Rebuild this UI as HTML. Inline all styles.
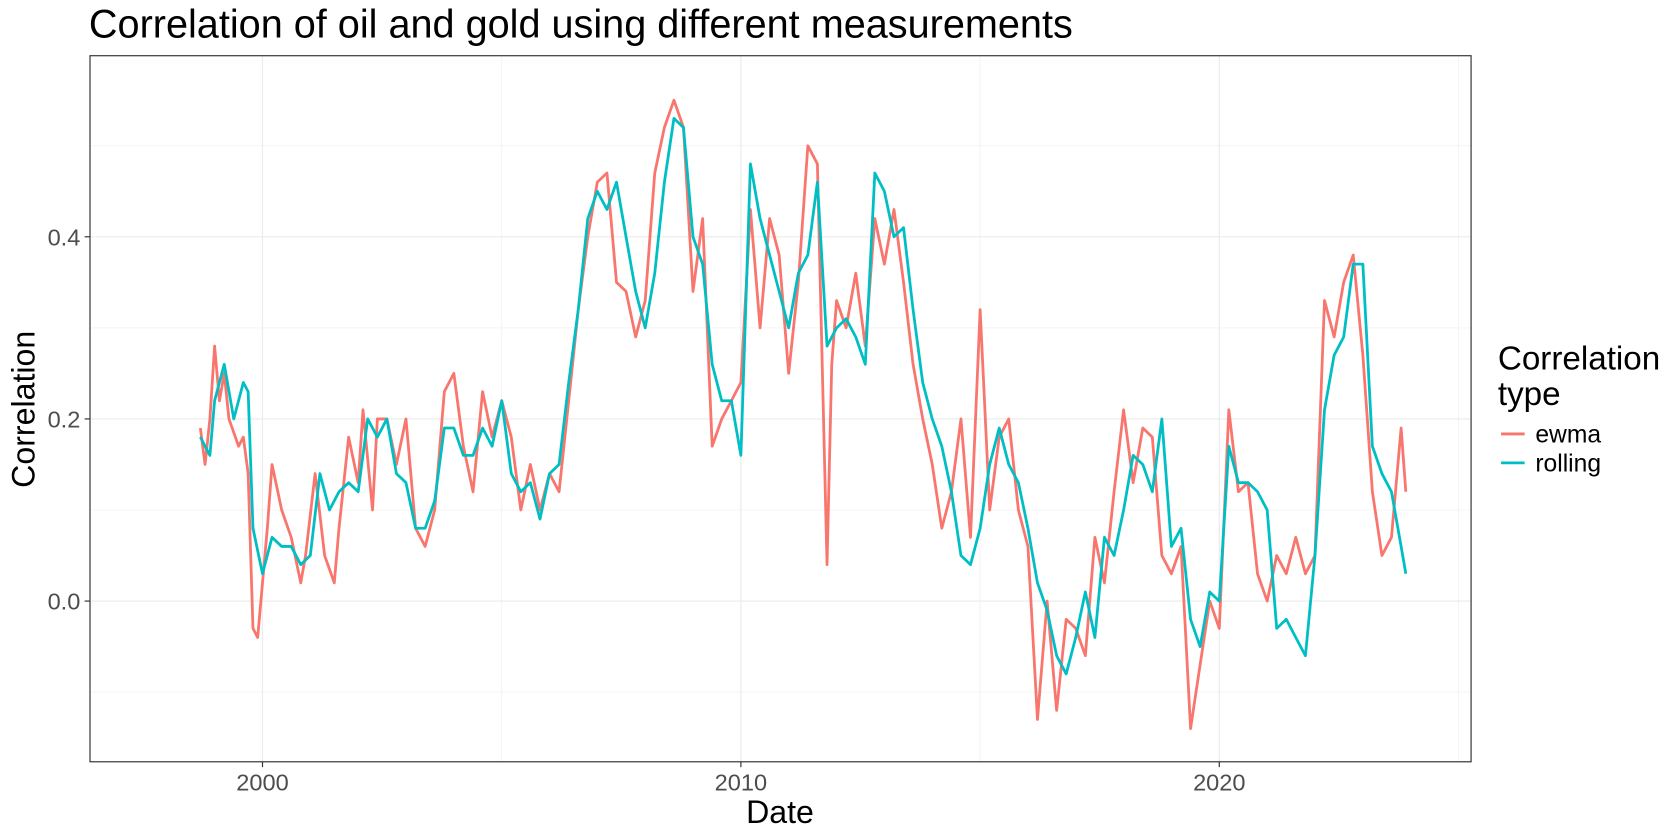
<!DOCTYPE html>
<html><head><meta charset="utf-8"><style>
html,body{margin:0;padding:0;background:#fff;width:1680px;height:840px;overflow:hidden}
svg{display:block;font-family:"Liberation Sans",sans-serif}
</style></head><body>
<svg id="chart" width="1680" height="840" viewBox="0 0 1568 784" xmlns="http://www.w3.org/2000/svg">
<rect width="1568" height="784" fill="#fff"/>
<text x="83" y="35" font-size="37" fill="#000">Correlation of oil and gold using different measurements</text>
<g id="grid"></g>
<g id="series"></g>
<rect x="84" y="52" width="1289" height="659" fill="none" stroke="#333" stroke-width="1.1"/>
<g id="axes"></g>
<text x="728" y="768" font-size="30" text-anchor="middle">Date</text>
<text transform="translate(32,382) rotate(-90)" font-size="30" text-anchor="middle">Correlation</text>
<g>
<text x="1398" y="345" font-size="31">Correlation</text>
<text x="1398" y="378" font-size="31">type</text>
<line x1="1401" y1="405" x2="1423" y2="405" stroke="#F8766D" stroke-width="2.6"/>
<text x="1433" y="413" font-size="23">ewma</text>
<line x1="1401" y1="432" x2="1423" y2="432" stroke="#00BFC4" stroke-width="2.6"/>
<text x="1433" y="440" font-size="23">rolling</text>
</g>
</svg>
<script>
const ewmaYears=[1998.7,1998.8,1998.9,1999.0,1999.1,1999.2,1999.3,1999.5,1999.6,1999.7,1999.8,1999.9,2000.0,2000.1,2000.2,2000.4,2000.6,2000.8,2000.9,2001.1,2001.3,2001.5,2001.6,2001.8,2002.0,2002.1,2002.3,2002.4,2002.6,2002.8,2003.0,2003.2,2003.4,2003.6,2003.8,2004.0,2004.2,2004.4,2004.6,2004.8,2005.0,2005.2,2005.4,2005.6,2005.8,2006.0,2006.2,2006.4,2006.6,2006.8,2007.0,2007.2,2007.4,2007.6,2007.8,2008.0,2008.2,2008.4,2008.6,2008.8,2009.0,2009.2,2009.4,2009.6,2009.8,2010.0,2010.2,2010.4,2010.6,2010.8,2011.0,2011.2,2011.4,2011.6,2011.8,2011.9,2012.0,2012.2,2012.4,2012.6,2012.8,2013.0,2013.2,2013.4,2013.6,2013.8,2014.0,2014.2,2014.4,2014.6,2014.8,2015.0,2015.2,2015.4,2015.6,2015.8,2016.0,2016.2,2016.4,2016.6,2016.8,2017.0,2017.2,2017.4,2017.6,2017.8,2018.0,2018.2,2018.4,2018.6,2018.8,2019.0,2019.2,2019.4,2019.6,2019.8,2020.0,2020.2,2020.4,2020.6,2020.8,2021.0,2021.2,2021.4,2021.6,2021.8,2022.0,2022.2,2022.4,2022.6,2022.8,2023.0,2023.2,2023.4,2023.6,2023.8,2023.9];
const ewmaValues=[0.19,0.15,0.20,0.28,0.22,0.25,0.20,0.17,0.18,0.14,-0.03,-0.04,0.02,0.08,0.15,0.10,0.07,0.02,0.05,0.14,0.05,0.02,0.08,0.18,0.13,0.21,0.10,0.20,0.20,0.15,0.20,0.08,0.06,0.10,0.23,0.25,0.17,0.12,0.23,0.18,0.22,0.18,0.10,0.15,0.10,0.14,0.12,0.22,0.32,0.40,0.46,0.47,0.35,0.34,0.29,0.33,0.47,0.52,0.55,0.52,0.34,0.42,0.17,0.20,0.22,0.24,0.43,0.30,0.42,0.38,0.25,0.35,0.50,0.48,0.04,0.26,0.33,0.30,0.36,0.28,0.42,0.37,0.43,0.35,0.26,0.20,0.15,0.08,0.12,0.20,0.07,0.32,0.10,0.18,0.20,0.10,0.06,-0.13,0.00,-0.12,-0.02,-0.03,-0.06,0.07,0.02,0.12,0.21,0.13,0.19,0.18,0.05,0.03,0.06,-0.14,-0.07,0.00,-0.03,0.21,0.12,0.13,0.03,0.00,0.05,0.03,0.07,0.03,0.05,0.33,0.29,0.35,0.38,0.27,0.12,0.05,0.07,0.19,0.12];
const rollingYears=[1998.7,1998.9,1999.0,1999.2,1999.4,1999.6,1999.7,1999.8,2000.0,2000.2,2000.4,2000.6,2000.8,2001.0,2001.2,2001.4,2001.6,2001.8,2002.0,2002.2,2002.4,2002.6,2002.8,2003.0,2003.2,2003.4,2003.6,2003.8,2004.0,2004.2,2004.4,2004.6,2004.8,2005.0,2005.2,2005.4,2005.6,2005.8,2006.0,2006.2,2006.4,2006.6,2006.8,2007.0,2007.2,2007.4,2007.6,2007.8,2008.0,2008.2,2008.4,2008.6,2008.8,2009.0,2009.2,2009.4,2009.6,2009.8,2010.0,2010.2,2010.4,2010.6,2010.8,2011.0,2011.2,2011.4,2011.6,2011.8,2012.0,2012.2,2012.4,2012.6,2012.8,2013.0,2013.2,2013.4,2013.6,2013.8,2014.0,2014.2,2014.4,2014.6,2014.8,2015.0,2015.2,2015.4,2015.6,2015.8,2016.0,2016.2,2016.4,2016.6,2016.8,2017.0,2017.2,2017.4,2017.6,2017.8,2018.0,2018.2,2018.4,2018.6,2018.8,2019.0,2019.2,2019.4,2019.6,2019.8,2020.0,2020.2,2020.4,2020.6,2020.8,2021.0,2021.2,2021.4,2021.6,2021.8,2022.0,2022.2,2022.4,2022.6,2022.8,2023.0,2023.2,2023.4,2023.6,2023.8,2023.9];
const rollingValues=[0.18,0.16,0.22,0.26,0.20,0.24,0.23,0.08,0.03,0.07,0.06,0.06,0.04,0.05,0.14,0.10,0.12,0.13,0.12,0.20,0.18,0.20,0.14,0.13,0.08,0.08,0.11,0.19,0.19,0.16,0.16,0.19,0.17,0.22,0.14,0.12,0.13,0.09,0.14,0.15,0.24,0.32,0.42,0.45,0.43,0.46,0.40,0.34,0.30,0.36,0.46,0.53,0.52,0.40,0.37,0.26,0.22,0.22,0.16,0.48,0.42,0.38,0.34,0.30,0.36,0.38,0.46,0.28,0.30,0.31,0.29,0.26,0.47,0.45,0.40,0.41,0.32,0.24,0.20,0.17,0.12,0.05,0.04,0.08,0.15,0.19,0.15,0.13,0.08,0.02,-0.01,-0.06,-0.08,-0.04,0.01,-0.04,0.07,0.05,0.10,0.16,0.15,0.12,0.20,0.06,0.08,-0.02,-0.05,0.01,0.00,0.17,0.13,0.13,0.12,0.10,-0.03,-0.02,-0.04,-0.06,0.05,0.21,0.27,0.29,0.37,0.37,0.17,0.14,0.12,0.06,0.03];
const xTicks=[2000,2010,2020];
const xMinor=[2005,2015,2025];
const yTicks=[0.0,0.2,0.4];
const yTickLabels=["0.0","0.2","0.4"];
const yMinor=[-0.1,0.1,0.3,0.5];

const xs=y=>245+(y-2000)*44.65;
const ys=v=>561-850*v;
const NS="http://www.w3.org/2000/svg";
const grid=document.getElementById('grid'),axes=document.getElementById('axes'),ser=document.getElementById('series');
function mk(tag,attrs,parent){const e=document.createElementNS(NS,tag);for(const k in attrs)e.setAttribute(k,attrs[k]);parent.appendChild(e);return e;}
yMinor.forEach(v=>{const l=mk('line',{x1:84,x2:1373,y1:ys(v),y2:ys(v),stroke:'#F0F0F0','stroke-width':0.7},grid);

});
xMinor.forEach(v=>{const l=mk('line',{x1:xs(v),x2:xs(v),y1:52,y2:711,stroke:'#F0F0F0','stroke-width':0.7},grid);

});
yTicks.forEach((v,i)=>{const l=mk('line',{x1:84,x2:1373,y1:ys(v),y2:ys(v),stroke:'#EBEBEB','stroke-width':1.1},grid);


const t=mk('line',{x1:79,x2:84,y1:ys(v),y2:ys(v),stroke:'#333','stroke-width':1.1},axes);


const tx=mk('text',{x:75,y:ys(v)+8,'font-size':22,fill:'#4D4D4D','text-anchor':'end'},axes);
tx.textContent=yTickLabels[i];

});
xTicks.forEach(v=>{const l=mk('line',{x1:xs(v),x2:xs(v),y1:52,y2:711,stroke:'#EBEBEB','stroke-width':1.1},grid);


const t=mk('line',{x1:xs(v),x2:xs(v),y1:711,y2:716,stroke:'#333','stroke-width':1.1},axes);


const tx=mk('text',{x:xs(v),y:738,'font-size':22,fill:'#4D4D4D','text-anchor':'middle'},axes);
tx.textContent=String(v);

});
function line(yrs,vals,color,name){const d=yrs.map((y,i)=>(i?'L':'M')+xs(y).toFixed(1)+','+ys(vals[i]).toFixed(1)).join('');
const p=mk('path',{d:d,fill:'none',stroke:color,'stroke-width':2.6,'stroke-linejoin':'round'},ser);

}
line(ewmaYears,ewmaValues,'#F8766D','ewma-line');
line(rollingYears,rollingValues,'#00BFC4','rolling-line');
</script>
</body></html>
